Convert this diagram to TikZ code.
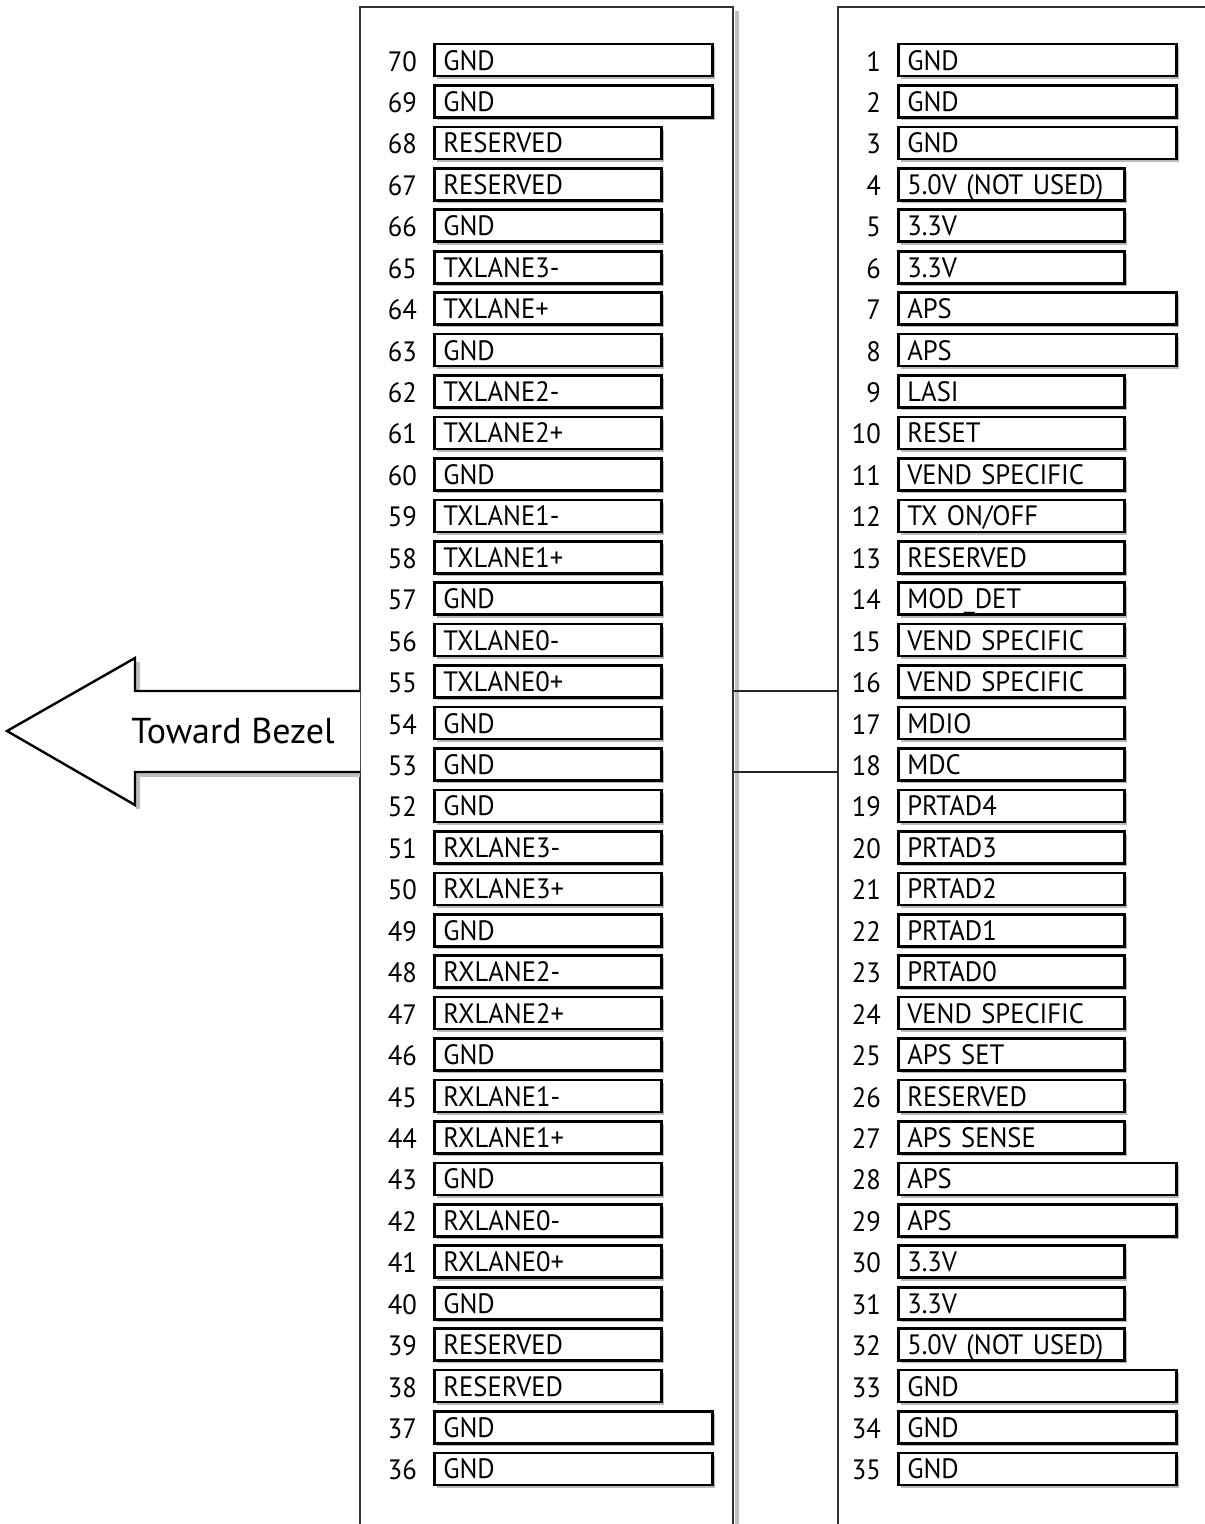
\documentclass[tikz,border=0pt]{standalone}
\usepackage{fontspec}
\setmainfont{PT Sans}
\newfontfamily\pinfont[FakeStretch=0.95]{PT Sans}
\usetikzlibrary{shadows}
\begin{document}
\begin{tikzpicture}[x=1pt,y=-1pt,
  pinbox/.style={draw=black,line width=2.6pt,fill=white,anchor=west,
    minimum height=32pt,inner xsep=9pt,inner ysep=0pt,align=left,
    text height=20pt,text depth=0pt,font=\pinfont\fontsize{28}{30}\selectfont,
    general shadow={fill=black!28,shadow xshift=2.8pt,shadow yshift=-2.8pt}},
  pinnum/.style={anchor=base east,inner sep=0pt,font=\pinfont\fontsize{28}{30}\selectfont},
  outer/.style={draw=black!80,line width=2.4pt},
  oshadow/.style={draw=black!25,line width=4pt},
  conn/.style={draw=black!85,line width=2.2pt},
]
\useasboundingbox (0,0) rectangle (1205,1524);
\fill[white] (0,0) rectangle (1205,1524);

% outer housings
\draw[oshadow] (737,11) -- (737,1530);
\draw[outer] (360,1530) -- (360,7) -- (733,7) -- (733,1530);
\draw[outer] (838,1530) -- (838,7) -- (1210,7);

% arrow toward bezel
\draw[oshadow] (138,662) -- (138,691);
\draw[oshadow] (138,809) -- (138,775) -- (360,775);
\draw[draw=black,line width=2.4pt,fill=white,line join=miter]
  (360,691) -- (135,691) -- (135,658) -- (7,731) -- (135,805) -- (135,772) -- (360,772);
\node[font=\fontsize{36}{40}\selectfont,inner sep=0pt] (bezel) at (233,731) {Toward Bezel};

% connectors between housings
\coordinate (ca) at (733,691);
\coordinate (cb) at (838,691);
\coordinate (cc) at (733,772);
\coordinate (cd) at (838,772);
\draw[conn] (ca) -- (cb);
\draw[conn] (cc) -- (cd);

% left column pins
\foreach \n/\t/\w [count=\i from 0] in {
  70/GND/278, 69/GND/278, 68/RESERVED/227, 67/RESERVED/227, 66/GND/227,
  65/TXLANE3-/227, 64/TXLANE+/227, 63/GND/227, 62/TXLANE2-/227, 61/TXLANE2+/227,
  60/GND/227, 59/TXLANE1-/227, 58/TXLANE1+/227, 57/GND/227, 56/TXLANE0-/227,
  55/TXLANE0+/227, 54/GND/227, 53/GND/227, 52/GND/227, 51/RXLANE3-/227,
  50/RXLANE3+/227, 49/GND/227, 48/RXLANE2-/227, 47/RXLANE2+/227, 46/GND/227,
  45/RXLANE1-/227, 44/RXLANE1+/227, 43/GND/227, 42/RXLANE0-/227, 41/RXLANE0+/227,
  40/GND/227, 39/RESERVED/227, 38/RESERVED/227, 37/GND/278, 36/GND/278}{
  \pgfmathsetmacro\yy{60+41.44*\i}
  \pgfmathsetmacro\tw{\w-18}
  \node[pinbox,minimum width=\w pt,text width=\tw pt] (l\n) at (433,\yy) {\t};
  \node[pinnum] (ln\n) at (417,\yy+11) {\n};
}

% right column pins
\foreach \n/\t/\w [count=\i from 0] in {
  1/GND/278, 2/GND/278, 3/GND/278, 4/5.0V (NOT USED)/226, 5/3.3V/226,
  6/3.3V/226, 7/APS/278, 8/APS/278, 9/LASI/226, 10/RESET/226,
  11/VEND SPECIFIC/226, 12/{TX ON/OFF}/226, 13/RESERVED/226, 14/MOD\_DET/226, 15/VEND SPECIFIC/226,
  16/VEND SPECIFIC/226, 17/MDIO/226, 18/MDC/226, 19/PRTAD4/226, 20/PRTAD3/226,
  21/PRTAD2/226, 22/PRTAD1/226, 23/PRTAD0/226, 24/VEND SPECIFIC/226, 25/APS SET/226,
  26/RESERVED/226, 27/APS SENSE/226, 28/APS/278, 29/APS/278, 30/3.3V/226,
  31/3.3V/226, 32/5.0V (NOT USED)/226, 33/GND/278, 34/GND/278, 35/GND/278}{
  \pgfmathsetmacro\yy{60+41.44*\i}
  \pgfmathsetmacro\tw{\w-18}
  \node[pinbox,minimum width=\w pt,text width=\tw pt] (r\n) at (897,\yy) {\t};
  \node[pinnum] (rn\n) at (881,\yy+11) {\n};
}
\end{tikzpicture}
\end{document}
